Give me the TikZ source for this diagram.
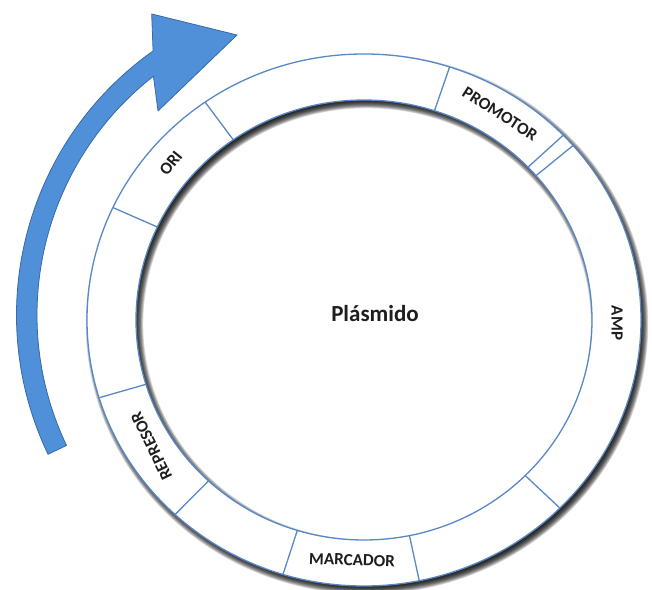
\documentclass[tikz,border=0pt]{standalone}
\usepackage{fontspec}
\setmainfont{Carlito}
\usetikzlibrary{calc}
\definecolor{arrowblue}{RGB}{80,144,216}
\definecolor{arrowedge}{RGB}{55,105,170}
\definecolor{ringblue}{RGB}{88,136,200}
\definecolor{labelgray}{RGB}{30,30,30}
\begin{document}
\begin{tikzpicture}[x=1pt,y=1pt,
  ringline/.style={draw=ringblue, line width=1.3pt},
  divider/.style={draw=ringblue, line width=1.3pt},
  lbl/.style={inner sep=0pt, text=labelgray, font=\fontsize{17}{20}\selectfont\bfseries},
]
\useasboundingbox (0,0) rectangle (652,589);
\fill[white] (0,0) rectangle (652,589);
\coordinate (C) at (364,269);
\coordinate (A) at (340,274);
% blurred drop shadow of the ring
\foreach \k in {0,...,9}{
  \pgfmathsetmacro{\ro}{277-3+0.8*\k}
  \pgfmathsetmacro{\rro}{266-3+0.8*\k}
  \pgfmathsetmacro{\ri}{228+3-0.8*\k}
  \pgfmathsetmacro{\rri}{220+3-0.8*\k}
  \fill[black, opacity=0.16, even odd rule]
    (367,265) ellipse[x radius=\ro pt, y radius=\rro pt]
    (367,265) ellipse[x radius=\ri pt, y radius=\rri pt];
}
% ring
\fill[white, even odd rule] (C) ellipse[x radius=277pt, y radius=266pt]
  (C) ellipse[x radius=228pt, y radius=220pt];
\draw[ringline] (C) ellipse[x radius=277pt, y radius=266pt];
\draw[ringline] (C) ellipse[x radius=228pt, y radius=220pt];
\foreach \a in {125,72,44,41,-45,-78.5,-107,-133,-163,155}{
  \draw[divider] ($(C)+(\a:228pt and 220pt)$) -- ($(C)+(\a:277pt and 266pt)$);
}
% arrow
\filldraw[fill=arrowblue, draw=arrowedge, line width=0.8pt, line join=round]
  ($(A)+(205.5:323.5pt)$) arc[start angle=205.5, end angle=125.3, radius=323.5pt]
  -- (151.7,575) -- (237,554) -- (158,478)
  -- ($(A)+(128:303pt)$) arc[start angle=128, end angle=205.5, radius=303pt] -- cycle;
% labels
\node[lbl, rotate=51] (ori) at (171,426) {ORI};
\node[lbl, rotate=-32.5] (promotor) at (500,475) {PROMOTOR};
\node[lbl, rotate=-90] (amp) at (617,266) {AMP};
\node[lbl, rotate=-2] (marcador) at (352,29) {MARCADOR};
\node[lbl, rotate=116] (represor) at (151.5,143) {REPRESOR};
\node[inner sep=0pt, anchor=base, font=\fontsize{23}{26}\selectfont\bfseries, text=labelgray] (plasmido) at (375,267) {Plásmido};
\end{tikzpicture}
\end{document}
